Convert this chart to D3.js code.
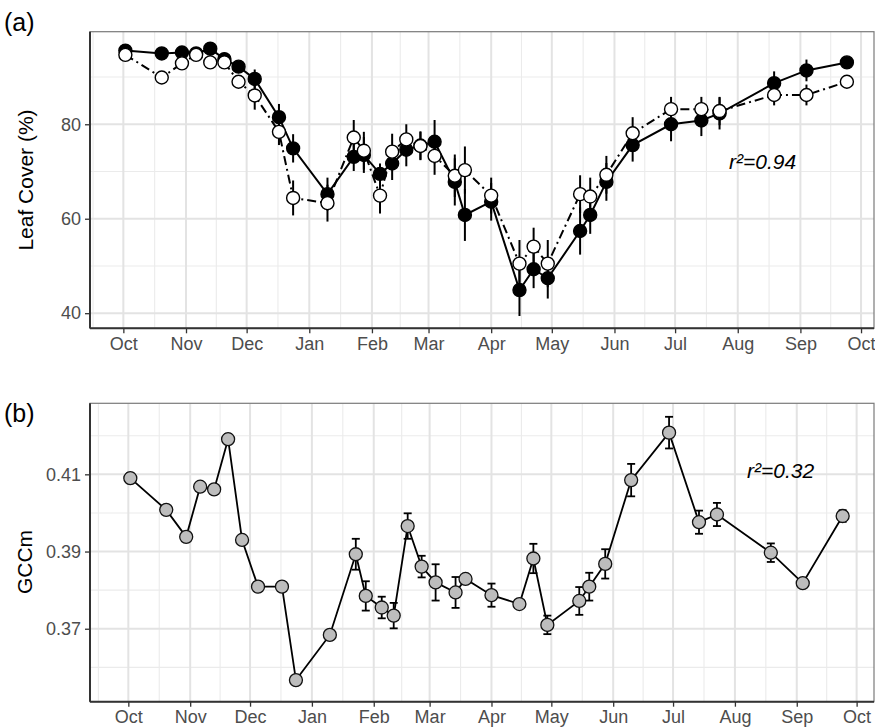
<!DOCTYPE html>
<html>
<head>
<meta charset="utf-8">
<script src="https://cdn.jsdelivr.net/npm/d3@7"></script>
<style>
  html, body { margin: 0; padding: 0; background: #fff; }
  svg { display: block; font-family: "Liberation Sans", Arial, Helvetica, sans-serif; }
</style>
</head>
<body>
<svg id="chart" width="875" height="728"></svg>
<script>
// Sampling dates (weekly-ish field surveys, Oct 2016 – Sep 2017)
const sampleDates = ["2016-10-02","2016-10-20","2016-10-30","2016-11-06","2016-11-13","2016-11-20","2016-11-27","2016-12-05","2016-12-17","2016-12-24","2017-01-10","2017-01-23","2017-01-28","2017-02-05","2017-02-11","2017-02-18","2017-02-25","2017-03-04","2017-03-14","2017-03-19","2017-04-01","2017-04-15","2017-04-22","2017-04-29","2017-05-15","2017-05-20","2017-05-28","2017-06-10","2017-06-29","2017-07-14","2017-07-23","2017-08-19","2017-09-04","2017-09-24"];

// Leaf cover (%) – filled series and its SE
const coverFilled = [95.6,95.0,95.2,95.0,96.0,93.8,92.2,89.6,81.5,74.9,65.2,73.1,73.5,69.5,71.7,74.6,75.5,76.3,67.8,60.8,63.6,44.9,49.3,47.4,57.4,60.8,67.8,75.6,80.0,80.8,82.3,88.7,91.4,93.1];
const coverFilledErr = [0.8,0.8,0.8,0.8,0.8,0.8,1.2,2.0,2.8,3.0,3.5,3.0,3.8,2.2,3.5,3.5,3.0,4.6,5.0,5.5,4.0,5.5,4.0,4.3,5.0,4.0,4.0,3.5,3.6,3.3,3.4,2.5,2.3,1.0];

// Leaf cover (%) – open series and its SE
const coverOpen = [94.7,89.9,92.9,94.7,93.1,93.1,89.0,86.1,78.4,64.4,63.3,77.2,74.4,64.9,74.2,76.8,75.4,73.3,69.1,70.3,64.9,50.5,54.1,50.5,65.2,64.7,69.3,78.1,83.2,83.2,82.8,86.2,86.2,89.0];
const coverOpenErr = [0.8,0.8,0.8,0.8,0.8,0.8,1.2,3.0,2.8,3.7,3.9,3.7,4.0,3.8,3.8,3.2,3.0,4.0,4.5,5.0,3.8,5.0,4.0,5.0,4.0,4.0,4.0,3.4,2.6,2.6,3.0,2.2,2.2,1.0];

// Green chromatic coordinate (GCCm) and its SE
const gccValues = [0.4090,0.4008,0.3938,0.4068,0.4061,0.4191,0.3930,0.3809,0.3809,0.3567,0.3684,0.3893,0.3785,0.3755,0.3734,0.3966,0.3861,0.3820,0.3794,0.3829,0.3787,0.3764,0.3882,0.3710,0.3772,0.3809,0.3868,0.4085,0.4208,0.3976,0.3996,0.3897,0.3818,0.3992];
const gccErr = [0.0013,0.0010,0.0010,0.0008,0.0008,0.0013,0.0012,0.0012,0.0010,0.0010,0.0012,0.0040,0.0038,0.0028,0.0033,0.0033,0.0028,0.0047,0.0040,0.0008,0.0030,0.0008,0.0038,0.0024,0.0036,0.0036,0.0038,0.0042,0.0041,0.0030,0.0030,0.0024,0.0006,0.0015];

// Axis ticks
const monthLabels = ["Oct","Nov","Dec","Jan","Feb","Mar","Apr","May","Jun","Jul","Aug","Sep","Oct"];
const coverTicks = [40, 60, 80];
const coverMinor = [50, 70, 90];
const gccTicks = [0.37, 0.39, 0.41];
const gccMinor = [0.36, 0.38, 0.40, 0.42];

const parse = d3.timeParse("%Y-%m-%d");
const dates = sampleDates.map(parse);
const monthTicks = d3.timeMonth.range(new Date(2016, 9, 1), new Date(2017, 9, 2));
// minor breaks halfway between month breaks (incl. the one before the first)
const monthMinor = d3.timeMonth.range(new Date(2016, 8, 1), new Date(2017, 9, 2))
  .slice(0, -1)
  .map(d => {
    const n = d3.timeMonth.offset(d, 1);
    return new Date((d.getTime() + n.getTime()) / 2);
  });

const svg = d3.select("#chart");
const left = 90, right = 874;

function panel(cfg) {
  const g = svg.append("g");
  const x = d3.scaleTime().domain(cfg.xDomain).range([left, right]);
  const y = d3.scaleLinear().domain(cfg.yDomain).range([cfg.bottom, cfg.top]);

  const clipId = "clip-" + cfg.id;
  svg.append("clipPath").attr("id", clipId).append("rect")
    .attr("x", left).attr("y", cfg.top).attr("width", right - left).attr("height", cfg.bottom - cfg.top);

  const grid = g.append("g").attr("clip-path", `url(#${clipId})`);
  // minor grid
  grid.selectAll(".vmin").data(monthMinor).join("line")
    .attr("x1", d => x(d)).attr("x2", d => x(d)).attr("y1", cfg.top).attr("y2", cfg.bottom)
    .attr("stroke", "#ebebeb").attr("stroke-width", 1.1);
  grid.selectAll(".hmin").data(cfg.yMinor).join("line")
    .attr("x1", left).attr("x2", right).attr("y1", d => y(d)).attr("y2", d => y(d))
    .attr("stroke", "#ebebeb").attr("stroke-width", 1.1);
  // major grid
  grid.selectAll(".vmaj").data(monthTicks).join("line")
    .attr("x1", d => x(d)).attr("x2", d => x(d)).attr("y1", cfg.top).attr("y2", cfg.bottom)
    .attr("stroke", "#e3e3e3").attr("stroke-width", 2);
  grid.selectAll(".hmaj").data(cfg.yTicks).join("line")
    .attr("x1", left).attr("x2", right).attr("y1", d => y(d)).attr("y2", d => y(d))
    .attr("stroke", "#e3e3e3").attr("stroke-width", 2);

  // panel border
  g.append("rect").attr("x", left).attr("y", cfg.top)
    .attr("width", right - left).attr("height", cfg.bottom - cfg.top)
    .attr("fill", "none").attr("stroke", "#7a7a7a").attr("stroke-width", 1.2);

  // axes
  const xAxis = d3.axisBottom(x).tickValues(monthTicks)
    .tickFormat((d, i) => monthLabels[i]).tickSize(5).tickPadding(4);
  const gx = g.append("g").attr("transform", `translate(0,${cfg.bottom})`).call(xAxis);
  const yAxis = d3.axisLeft(y).tickValues(cfg.yTicks).tickFormat(cfg.yFormat).tickSize(5).tickPadding(4);
  const gy = g.append("g").attr("transform", `translate(${left},0)`).call(yAxis);
  [gx, gy].forEach(a => {
    a.select(".domain").remove();
    a.selectAll(".tick line").attr("stroke", "#333").attr("stroke-width", 1.3);
    a.selectAll(".tick text").attr("fill", "#4d4d4d").style("font-size", "18px");
  });
  g.append("line").attr("x1", left).attr("x2", right).attr("y1", cfg.bottom).attr("y2", cfg.bottom)
    .attr("stroke", "#333").attr("stroke-width", 2);
  g.append("line").attr("x1", left).attr("x2", left).attr("y1", cfg.top).attr("y2", cfg.bottom)
    .attr("stroke", "#333").attr("stroke-width", 2);

  // axis title
  g.append("text")
    .attr("transform", `translate(${cfg.titleX},${cfg.titleY}) rotate(-90)`)
    .attr("text-anchor", "middle").attr("dominant-baseline", "central")
    .style("font-size", "21px").attr("fill", "#000").text(cfg.yTitle);

  // panel tag
  g.append("text").attr("x", 4).attr("y", cfg.tagY)
    .style("font-size", "25px").attr("fill", "#000").text(cfg.tag);

  // r² annotation
  g.append("text").attr("x", cfg.rx).attr("y", cfg.ry)
    .style("font-size", "21px").style("font-style", "italic").attr("fill", "#000").text(cfg.rText);

  return { g, x, y };
}

// ---------- (a) Leaf cover ----------
const pa = panel({
  id: "a", top: 31.7, bottom: 328.3,
  xDomain: [new Date(2016, 8, 14, 12), new Date(2017, 9, 7, 10)],
  yDomain: [36.8, 99.6],
  yTicks: coverTicks, yMinor: coverMinor, yFormat: d3.format("d"),
  yTitle: "Leaf Cover (%)", titleX: 25, titleY: 180,
  tag: "(a)", tagY: 31,
  rText: "r²=0.94", rx: 729, ry: 169
});
{
  const { g, x, y } = pa;
  const filled = dates.map((d, i) => ({ d, v: coverFilled[i], e: coverFilledErr[i] }));
  const open = dates.map((d, i) => ({ d, v: coverOpen[i], e: coverOpenErr[i] }));
  const line = d3.line().x(p => x(p.d)).y(p => y(p.v));

  g.append("path").datum(filled).attr("d", line)
    .attr("fill", "none").attr("stroke", "#000").attr("stroke-width", 2);
  g.append("path").datum(open).attr("d", line)
    .attr("fill", "none").attr("stroke", "#000").attr("stroke-width", 2)
    .attr("stroke-dasharray", "9,4,2,4");

  [[filled, "#000"], [open, "#fff"]].forEach(([data, fill]) => {
    g.append("g").selectAll("line").data(data).join("line")
      .attr("x1", p => x(p.d)).attr("x2", p => x(p.d))
      .attr("y1", p => y(p.v - p.e)).attr("y2", p => y(p.v + p.e))
      .attr("stroke", "#000").attr("stroke-width", 2);
    g.append("g").selectAll("circle").data(data).join("circle")
      .attr("cx", p => x(p.d)).attr("cy", p => y(p.v)).attr("r", 6.5)
      .attr("fill", fill).attr("stroke", "#000").attr("stroke-width", 1.4);
  });
}

// ---------- (b) GCCm ----------
const pb = panel({
  id: "b", top: 403.3, bottom: 701.7,
  xDomain: [new Date(2016, 8, 11, 19), new Date(2017, 9, 9, 17)],
  yDomain: [0.3511, 0.4284],
  yTicks: gccTicks, yMinor: gccMinor, yFormat: d3.format(".2f"),
  yTitle: "GCCm", titleX: 24, titleY: 562,
  tag: "(b)", tagY: 422,
  rText: "r²=0.32", rx: 747, ry: 478
});
{
  const { g, x, y } = pb;
  const pts = dates.map((d, i) => ({ d, v: gccValues[i], e: gccErr[i] }));
  g.append("path").datum(pts)
    .attr("d", d3.line().x(p => x(p.d)).y(p => y(p.v)))
    .attr("fill", "none").attr("stroke", "#000").attr("stroke-width", 1.8);
  const eb = g.append("g").selectAll("g").data(pts).join("g").attr("stroke", "#000").attr("stroke-width", 1.8);
  eb.append("line").attr("x1", p => x(p.d)).attr("x2", p => x(p.d))
    .attr("y1", p => y(p.v - p.e)).attr("y2", p => y(p.v + p.e));
  eb.append("line").attr("x1", p => x(p.d) - 4).attr("x2", p => x(p.d) + 4)
    .attr("y1", p => y(p.v - p.e)).attr("y2", p => y(p.v - p.e));
  eb.append("line").attr("x1", p => x(p.d) - 4).attr("x2", p => x(p.d) + 4)
    .attr("y1", p => y(p.v + p.e)).attr("y2", p => y(p.v + p.e));
  g.append("g").selectAll("circle").data(pts).join("circle")
    .attr("cx", p => x(p.d)).attr("cy", p => y(p.v)).attr("r", 6.5)
    .attr("fill", "#bdbdbd").attr("stroke", "#111").attr("stroke-width", 1.3);
}
</script>
</body>
</html>
